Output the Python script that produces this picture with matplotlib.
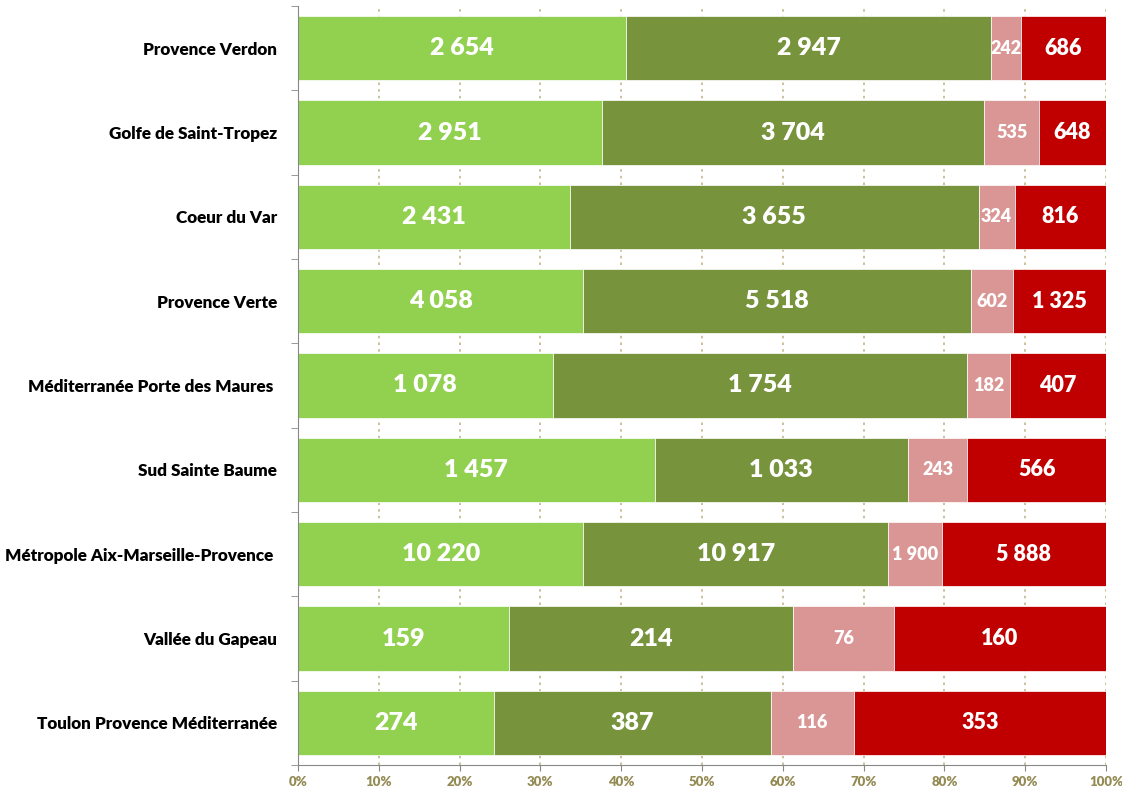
import matplotlib
matplotlib.use("Agg")
import matplotlib.pyplot as plt
import numpy as np
from matplotlib.ticker import MultipleLocator, FixedLocator, PercentFormatter

categories = [
    "Provence Verdon",
    "Golfe de Saint-Tropez",
    "Coeur du Var",
    "Provence Verte",
    "Méditerranée Porte des Maures ",
    "Sud Sainte Baume",
    "Métropole Aix-Marseille-Provence ",
    "Vallée du Gapeau",
    "Toulon Provence Méditerranée",
]
serie1 = [2654, 2951, 2431, 4058, 1078, 1457, 10220, 159, 274]
serie2 = [2947, 3704, 3655, 5518, 1754, 1033, 10917, 214, 387]
serie3 = [242, 535, 324, 602, 182, 243, 1900, 76, 116]
serie4 = [686, 648, 816, 1325, 407, 566, 5888, 160, 353]
colors = ["#92D050", "#77933C", "#D99694", "#C00000"]
label_sizes = [18, 18, 13, 15.5]
W = 800

plt.rcParams['font.family'] = ['Lato', 'DejaVu Sans']

fig = plt.figure(figsize=(11.22, 7.91), dpi=100)
ax = fig.add_axes([298/1122, 1-765/791, (1106-298)/1122, (765-6)/791])

series = [serie1, serie2, serie3, serie4]
data = np.array(series, dtype=float)
totals = data.sum(axis=0)
pct = data / totals * 100
y = np.arange(len(categories))
left = np.zeros(len(categories))
for i, s in enumerate(series):
    ax.barh(y, pct[i], left=left, height=0.76, color=colors[i],
            edgecolor="white", linewidth=0.5, zorder=3)
    for j in range(len(categories)):
        ax.text(left[j] + pct[i][j] / 2, y[j], f"{s[j]:,}".replace(",", " "),
                ha="center", va="center", color="white", fontsize=label_sizes[i],
                fontweight=W, zorder=4)
    left += pct[i]

ax.set_xlim(0, 100)
ax.set_ylim(len(categories) - 0.5, -0.5)
ax.xaxis.set_major_locator(MultipleLocator(10))
ax.xaxis.set_major_formatter(PercentFormatter(decimals=0))
ax.grid(axis="x", color="#C4B68A", linestyle=(0, (1.5, 2.5)), linewidth=1.2, zorder=0)
ax.set_axisbelow(True)

ax.set_yticks(y)
ax.set_yticklabels(categories, fontsize=12.3, fontweight=W, color="black")
ax.yaxis.set_minor_locator(FixedLocator(np.arange(-0.5, len(categories), 1.0)))
ax.tick_params(axis="y", which="major", length=0, pad=15)
ax.tick_params(axis="y", which="minor", length=5, color="#888888", direction="out")
ax.tick_params(axis="x", which="major", length=4, color="#888888", direction="out",
               labelsize=9.5, labelcolor="#948A54", pad=4)
for lbl in ax.get_xticklabels():
    lbl.set_fontweight(W)

for side in ["top", "right"]:
    ax.spines[side].set_visible(False)
ax.spines["left"].set_color("#888888")
ax.spines["bottom"].set_color("#888888")
ax.spines["left"].set_zorder(5)

fig.savefig("out.png", dpi=100)
